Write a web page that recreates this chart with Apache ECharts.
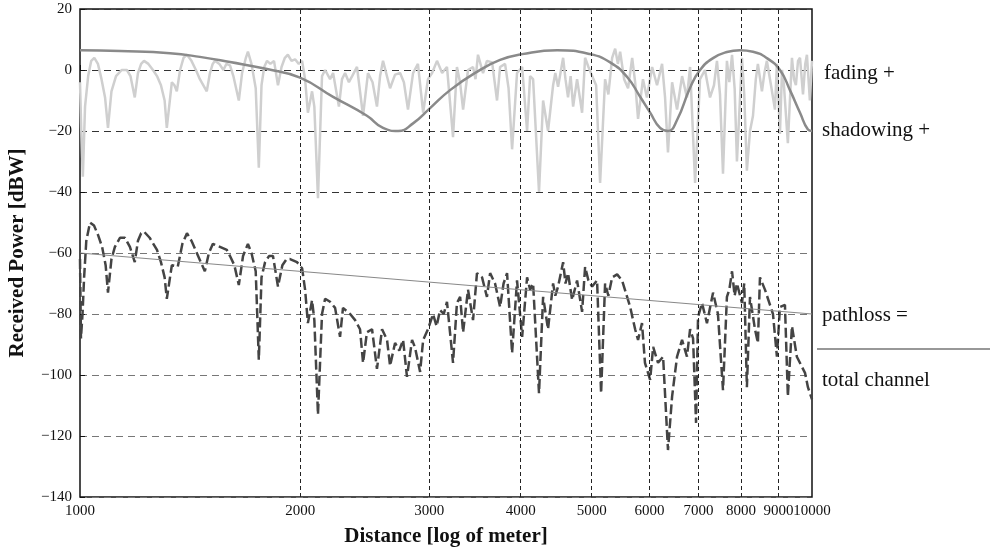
<!DOCTYPE html>
<html>
<head>
<meta charset="utf-8">
<script src="https://cdn.jsdelivr.net/npm/echarts@6/dist/echarts.min.js"></script>
<style>
  html, body { margin: 0; padding: 0; background: #fff; }
  #chart { width: 992px; height: 549px; }
</style>
</head>
<body>
<div id="chart"></div>
<script>
// Distances (m) that get a dashed vertical grid line and a tick label
const distGrid = [2000, 3000, 4000, 5000, 6000, 7000, 8000, 9000];

// Small-scale fading component [distance m, dB]
const fading = [
  [1000,-4],[1004,-20],[1009,-35],[1016,-12],[1026,-2],[1036,3],[1046,4],[1058,2],
  [1070,-3],[1082,-9],[1092,-19],[1104,-7],[1120,-2],[1140,0],[1159,0],[1172,-2],
  [1188,-9],[1200,-1],[1212,2],[1223,3],[1240,2],[1258,0],[1274,-2],[1290,-5],
  [1305,-10],[1314,-19],[1335,-4],[1346,-5],[1356,-7],[1370,0],[1385,4],[1400,5],
  [1420,3],[1440,0],[1458,-3],[1490,-7],[1505,-1],[1518,2],[1529,3],[1550,2],
  [1570,0],[1585,2],[1603,1.5],[1620,-2],[1648,-10],[1665,-1],[1685,4],[1696,6],
  [1715,2],[1738,-6],[1755,-32],[1770,-5],[1785,1],[1801,3],[1820,2],[1841,3],
  [1864,-5],[1885,1],[1905,4],[1923,5],[1945,3],[1967,3.5],[1990,2],[2011,3],
  [2030,-3],[2048,-14],[2075,-7],[2090,-12],[2114,-42],[2141,-2],[2162,0],[2196,-3],
  [2217,-1],[2258,-12],[2280,-3],[2302,-1],[2330,-4],[2354,-2],[2390,1],[2436,-15],
  [2474,-1],[2510,-4],[2545,-12],[2570,-2],[2594,3],[2652,-6],[2694,-1.5],[2737,-1],
  [2770,-4],[2806,-13],[2851,-1],[2895,2],[2943,-14],[2988,-3],[3027,-1],[3074,3],
  [3124,-1],[3172,1],[3233,-22],[3273,1],[3305,-4],[3337,-13],[3389,0],[3443,1],
  [3470,-3],[3497,5],[3553,-1],[3597,3],[3656,2.5],[3713,-10],[3749,1],[3808,2],
  [3850,-6],[3893,-26],[3954,-1],[4018,1],[4081,-20],[4120,-2],[4159,-3],[4237,-40],
  [4292,-10],[4359,-20],[4429,-5],[4460,-1],[4499,-5.5],[4571,4],[4605,-3],[4642,-9],
  [4680,-2],[4717,-12],[4776,-3],[4852,-14],[4898,4],[4950,1],[5008,-2],[5071,-5],
  [5135,-37],[5216,-3],[5270,-8],[5333,4],[5384,7],[5430,2],[5469,6],[5538,-3],
  [5607,-6],[5680,4],[5733,-4],[5786,-16],[5876,-3],[5949,-9],[6048,1],[6142,-5],
  [6240,2],[6299,-9],[6357,-27],[6440,-4],[6541,-13],[6645,-2],[6748,-9],[6815,1],
  [6923,-37],[7031,-3],[7142,0],[7256,-9],[7347,-5],[7416,3],[7487,-8],[7558,-34],
  [7652,3],[7710,-4],[7776,5],[7840,-6],[7897,-30],[8023,4],[8080,-8],[8148,-33],
  [8228,-20],[8306,-15],[8380,-3],[8435,2],[8543,-7],[8610,-1],[8677,3],[8790,-5],
  [8900,-13],[8955,2],[9041,-21],[9100,0],[9155,-5],[9269,-24],[9389,4],[9450,-3],
  [9506,-5],[9570,3],[9630,4],[9721,-8],[9790,2],[9842,5],[9933,-10],[10000,3]
];

// Large-scale shadowing component [distance m, dB]
const shadowing = [
  [1000,6.5],[1134,6.2],[1327,5.5],[1458,4.3],[1603,2.6],[1801,0.3],[1998,-2.5],
  [2217,-8.8],[2466,-15],[2594,-19],[2720,-20],[2851,-17.5],[3008,-12.5],[3203,-6.6],
  [3486,-0.6],[3749,3.3],[4018,5.2],[4486,6.5],[4977,5.2],[5300,2.5],[5590,-2.3],
  [5821,-8.7],[6010,-14],[6201,-19],[6357,-20],[6541,-16.4],[6815,-5.8],[7031,0],
  [7325,3.9],[7652,5.9],[7973,6.5],[8306,6],[8677,3.9],[9041,0],[9330,-6.6],
  [9630,-14],[9873,-19.5],[10000,-20]
];

// Path loss [distance m, dB]
const pathloss = [[1000,-60],[10000,-80]];

// Total received power [distance m, dB]
const total = [
  [1000,-62],[1003,-88],[1008,-80],[1013,-68],[1020,-56],[1032,-50],[1045,-51],[1058,-54],
  [1072,-58],[1084,-64],[1092,-73],[1104,-62],[1116,-58],[1134,-55],[1152,-55],[1170,-58],
  [1188,-63],[1200,-56],[1212,-53.5],[1223,-53],[1245,-55],[1274,-59],[1290,-63],[1305,-68],
  [1314,-75],[1335,-64],[1360,-64.5],[1380,-57],[1400,-53.5],[1420,-56],[1444,-60],[1481,-66],
  [1500,-60],[1519,-57],[1553,-58],[1587,-59],[1603,-61],[1625,-64],[1648,-70.5],[1670,-61],
  [1696,-57],[1715,-60],[1738,-66],[1755,-95],[1770,-68],[1790,-63],[1812,-61],[1835,-61],
  [1864,-71],[1890,-64],[1915,-62],[1936,-62],[1979,-63],[2011,-65],[2030,-72],[2048,-83],
  [2075,-75.5],[2090,-82],[2114,-113],[2141,-80],[2162,-75],[2196,-76],[2231,-78],[2266,-87.5],
  [2287,-78],[2339,-80],[2376,-82],[2413,-85],[2436,-96],[2466,-86],[2506,-85],[2545,-98],
  [2586,-85],[2627,-88.5],[2652,-97],[2694,-89.5],[2730,-92],[2763,-88.5],[2797,-100.6],[2842,-88.5],
  [2869,-91],[2915,-99],[2943,-88.5],[2988,-85],[3036,-80],[3070,-84],[3104,-78.7],[3140,-80],
  [3172,-76],[3233,-96],[3273,-76.4],[3306,-74.4],[3337,-86],[3389,-72],[3443,-82],[3486,-66.6],
  [3542,-68],[3597,-74.4],[3633,-66.6],[3690,-70],[3749,-77.7],[3790,-70],[3832,-66.6],[3893,-92.8],
  [3954,-69],[4018,-87.5],[4081,-68],[4120,-72],[4159,-70],[4237,-106],[4292,-74.4],[4359,-85],
  [4429,-70],[4460,-74],[4499,-71],[4571,-63],[4605,-70],[4642,-66.6],[4702,-75.4],[4776,-69],
  [4852,-79.3],[4898,-64.6],[4950,-69],[5008,-71],[5086,-69],[5151,-106],[5216,-70],[5270,-74],
  [5333,-68],[5417,-67],[5503,-69],[5590,-74.4],[5644,-77.7],[5733,-85],[5786,-88.5],[5858,-83],
  [5913,-96],[6010,-101.6],[6067,-90.8],[6161,-96],[6260,-94],[6357,-124.6],[6440,-107],[6541,-94],
  [6645,-88.5],[6748,-94],[6815,-85],[6879,-88],[6944,-115.7],[6987,-81],[7075,-76.4],[7186,-83],
  [7325,-73],[7439,-80],[7558,-105],[7652,-74.4],[7710,-72],[7776,-66],[7840,-74],[7897,-70],
  [8023,-76.4],[8080,-70],[8148,-104],[8228,-74.4],[8358,-85],[8435,-89.5],[8490,-68],[8624,-72],
  [8762,-77],[8845,-80],[8955,-94],[9041,-77.7],[9184,-77],[9269,-107],[9389,-84],[9535,-94],
  [9691,-97.4],[9782,-99.3],[9873,-104],[10000,-108]
];

const FONT = 'Liberation Serif';
const chart = echarts.init(document.getElementById('chart'), null, { renderer: 'canvas' });

const minus = v => (v < 0 ? '\u2212' + (-v) : String(v));

chart.setOption({
  animation: false,
  backgroundColor: '#fff',
  grid: {
    left: 80, right: 180, top: 9, bottom: 52,
    containLabel: false, outerBoundsMode: 'none',
    show: true, borderColor: '#111', borderWidth: 1.5, backgroundColor: 'transparent'
  },
  xAxis: {
    type: 'log', logBase: 10, min: 1000, max: 10000,
    name: 'Distance [log of meter]', nameLocation: 'middle', nameGap: 29,
    nameTextStyle: { fontFamily: FONT, fontSize: 21, fontWeight: 'bold', color: '#111' },
    axisLine: { show: false },
    axisTick: { show: true, inside: true, length: 5, lineStyle: { color: '#111' } },
    axisLabel: {
      fontFamily: FONT, fontSize: 15, color: '#111', margin: 7,
      showMinLabel: true, showMaxLabel: true,
      formatter: v => String(Math.round(v))
    },
    splitLine: { show: false }
  },
  yAxis: {
    type: 'value', min: -140, max: 20, interval: 20,
    name: 'Received Power [dBW]', nameLocation: 'middle', nameGap: 52, nameRotate: 90,
    nameTextStyle: { fontFamily: FONT, fontSize: 21, fontWeight: 'bold', color: '#111' },
    axisLine: { show: false },
    axisTick: { show: true, inside: true, length: 5, lineStyle: { color: '#111' } },
    axisLabel: { fontFamily: FONT, fontSize: 15, color: '#111', margin: 8, formatter: minus },
    splitLine: {
      show: true,
      lineStyle: {
        type: [7, 5], width: 1,
        color: ['#777', '#777', '#777', '#777', '#777', '#333', '#333', '#333', '#333']
      }
    }
  },
  series: [
    {
      name: 'fading', type: 'line', data: fading, showSymbol: false, symbol: 'none',
      lineStyle: { color: '#cfcfcf', width: 2.5 }, z: 2
    },
    {
      name: 'shadowing', type: 'line', data: shadowing, showSymbol: false, symbol: 'none',
      smooth: 0.5, lineStyle: { color: '#8a8a8a', width: 2.5 }, z: 3
    },
    {
      name: 'total channel', type: 'line', data: total, showSymbol: false, symbol: 'none',
      lineStyle: { color: '#444', width: 2.5, type: [10, 4] }, z: 4
    },
    {
      name: 'pathloss', type: 'line', data: pathloss, showSymbol: false, symbol: 'none',
      lineStyle: { color: '#888', width: 1.2 }, z: 5,
      markLine: {
        silent: true, symbol: 'none', animation: false,
        lineStyle: { color: '#222', width: 1, type: [4, 3] },
        label: {
          show: true, position: 'start', distance: 7,
          fontFamily: FONT, fontSize: 15, color: '#111',
          formatter: p => String(p.value)
        },
        data: distGrid.map(d => ({ xAxis: d }))
      }
    }
  ],
  graphic: [
    { type: 'text', left: 824, top: 63, style: { text: 'fading +', font: '21px "Liberation Serif"', fill: '#111' } },
    { type: 'text', left: 822, top: 120, style: { text: 'shadowing +', font: '21px "Liberation Serif"', fill: '#111' } },
    { type: 'text', left: 822, top: 305, style: { text: 'pathloss =', font: '21px "Liberation Serif"', fill: '#111' } },
    { type: 'line', shape: { x1: 817, y1: 349, x2: 990, y2: 349 }, style: { stroke: '#333', lineWidth: 1.2 } },
    { type: 'text', left: 822, top: 370, style: { text: 'total channel', font: '21px "Liberation Serif"', fill: '#111' } }
  ]
});
</script>
</body>
</html>
